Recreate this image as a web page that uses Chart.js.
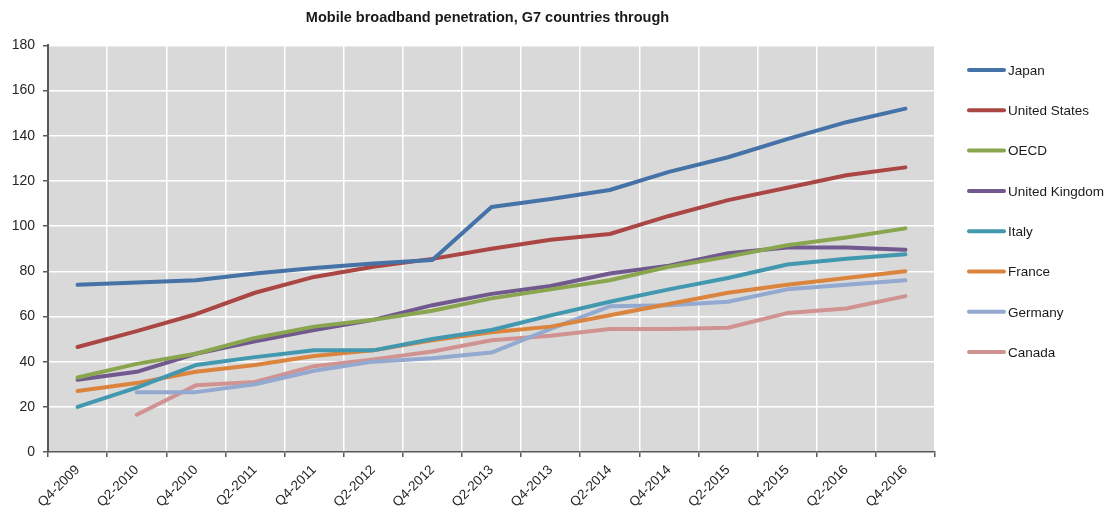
<!DOCTYPE html>
<html>
<head>
<meta charset="utf-8">
<script src="https://cdn.jsdelivr.net/npm/chart.js@4.4.1/dist/chart.umd.min.js"></script>
<style>
  html, body { margin: 0; padding: 0; background: #fff; }
  #wrap { width: 1108px; height: 513px; }
</style>
</head>
<body>
<div id="wrap"><canvas id="chart"></canvas></div>
<script>
// Quarterly labels (half-yearly points)
const quarters = ['Q4-2009', 'Q2-2010', 'Q4-2010', 'Q2-2011', 'Q4-2011', 'Q2-2012', 'Q4-2012', 'Q2-2013',
    'Q4-2013', 'Q2-2014', 'Q4-2014', 'Q2-2015', 'Q4-2015', 'Q2-2016', 'Q4-2016'];

const japan = [74, 75, 76, 79, 81.5, 83.5, 85, 108.5, 112, 116, 124, 130.5, 138.5, 146, 152];
const unitedStates = [46.5, 53.5, 61, 70.5, 77.5, 82, 85.5, 90, 94, 96.5, 104.5, 111.5, 117, 122.5, 126];
const oecd = [33, 39, 43.5, 50.5, 55.5, 58.5, 62.5, 68, 72, 76, 82, 86.5, 91.5, 95, 99];
const unitedKingdom = [32, 35.5, 43.5, 49, 54, 58.5, 65, 70, 73.5, 79, 82.5, 88, 90.5, 90.5, 89.5];
const italy = [20, 28.5, 38.5, 42, 45, 45, 50, 54, 60.5, 66.5, 72, 77, 83, 85.5, 87.5];
const france = [27, 30.5, 35.5, 38.5, 42.5, 45, 49.5, 53, 55.5, 60.5, 65.5, 70.5, 74, 77, 80];
const germany = [null, 26.5, 26.5, 30, 36, 40, 41.5, 44, 54.5, 64.5, 65, 66.5, 72, 74, 76];
const canada = [null, 16.5, 29.5, 31, 38, 41, 44.5, 49.5, 51.5, 54.5, 54.5, 55, 61.5, 63.5, 69];

const yTicks = { min: 0, max: 180, step: 20 };

const series = [
    { label: 'Japan', data: japan, color: '#4572a7' },
    { label: 'United States', data: unitedStates, color: '#aa4643' },
    { label: 'OECD', data: oecd, color: '#89a54e' },
    { label: 'United Kingdom', data: unitedKingdom, color: '#71588f' },
    { label: 'Italy', data: italy, color: '#4198af' },
    { label: 'France', data: france, color: '#db843d' },
    { label: 'Germany', data: germany, color: '#93a9cf' },
    { label: 'Canada', data: canada, color: '#d19392' }
];

const FONT = '"Liberation Sans", Arial, sans-serif';

// grey plot background, title nudged to the right like the original
const plotBackground = {
    id: 'plotBackground',
    afterLayout(chart) {
        if (chart.titleBlock) {
            chart.titleBlock.left = 40;
            chart.titleBlock.right = 935;
        }
    },
    beforeDraw(chart) {
        const { ctx, chartArea } = chart;
        ctx.save();
        ctx.fillStyle = '#d9d9d9';
        ctx.fillRect(chartArea.left, chartArea.top, chartArea.right - chartArea.left, chartArea.bottom - chartArea.top);
        ctx.restore();
    }
};

// legend on the right, one item per row
const sideLegend = {
    id: 'sideLegend',
    afterDraw(chart) {
        const { ctx } = chart;
        ctx.save();
        ctx.font = '13.5px ' + FONT;
        ctx.textBaseline = 'middle';
        ctx.lineCap = 'round';
        chart.data.datasets.forEach((ds, i) => {
            const y = 70 + i * 40.3;
            ctx.strokeStyle = ds.borderColor;
            ctx.lineWidth = 4;
            ctx.beginPath();
            ctx.moveTo(969, y);
            ctx.lineTo(1004, y);
            ctx.stroke();
            ctx.fillStyle = '#1a1a1a';
            ctx.fillText(ds.label, 1008, y + 1);
        });
        ctx.restore();
    }
};

new Chart(document.getElementById('chart'), {
    type: 'line',
    data: {
        labels: quarters,
        datasets: series.map(s => ({
            label: s.label,
            data: s.data,
            borderColor: s.color,
            backgroundColor: s.color,
            borderWidth: 4,
            borderCapStyle: 'round',
            borderJoinStyle: 'round',
            pointRadius: 0,
            tension: 0,
            spanGaps: false
        }))
    },
    options: {
        responsive: true,
        maintainAspectRatio: false,
        animation: false,
        layout: { padding: { left: 0, right: 173, top: 0, bottom: 0 } },
        plugins: {
            legend: { display: false },
            tooltip: { enabled: false },
            title: {
                display: true,
                text: 'Mobile broadband penetration, G7 countries through',
                color: '#1a1a1a',
                font: { family: FONT, size: 14.5, weight: 'bold' },
                padding: { top: 9, bottom: 19 }
            }
        },
        scales: {
            x: {
                offset: true,
                afterFit: (scale) => { scale.height = 61; },
                grid: { offset: true, color: '#ffffff', lineWidth: 1.5, tickColor: '#595959', tickLength: 5 },
                border: { color: '#595959', width: 1.5 },
                ticks: {
                    autoSkip: false,
                    minRotation: 45,
                    maxRotation: 45,
                    padding: 5,
                    color: '#262626',
                    font: { family: FONT, size: 13.5 }
                }
            },
            y: {
                min: yTicks.min,
                max: yTicks.max,
                afterFit: (scale) => { scale.width = 48; },
                grid: { color: '#ffffff', lineWidth: 1.5, tickColor: '#595959', tickLength: 5 },
                border: { color: '#595959', width: 2 },
                ticks: {
                    stepSize: yTicks.step,
                    padding: 8,
                    color: '#262626',
                    font: { family: FONT, size: 14 }
                }
            }
        }
    },
    plugins: [plotBackground, sideLegend]
});
</script>
</body>
</html>
